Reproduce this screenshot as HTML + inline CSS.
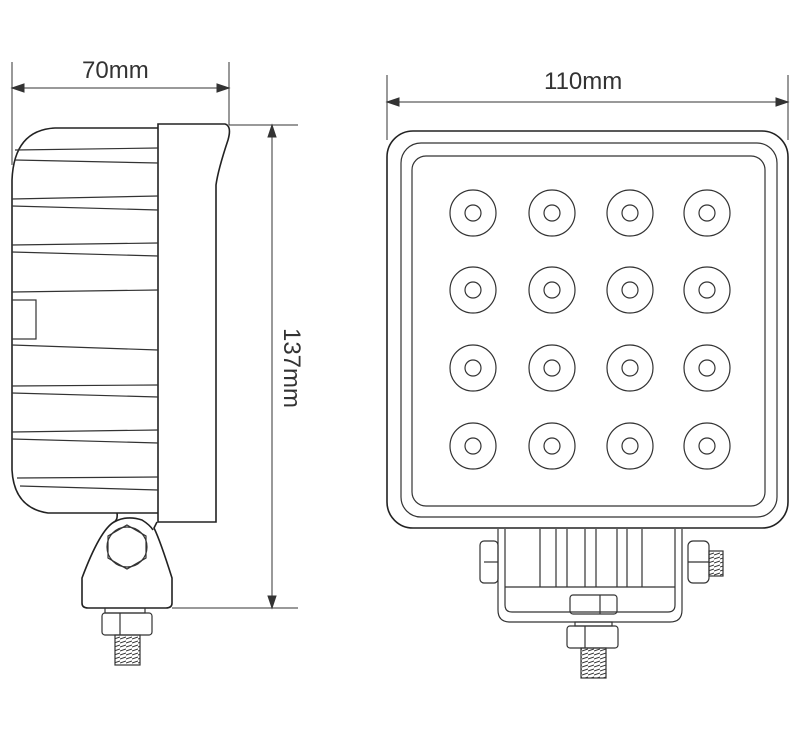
<!DOCTYPE html>
<html><head><meta charset="utf-8"><style>html,body{margin:0;padding:0;background:#fff}svg{display:block}</style></head>
<body>
<svg width="800" height="744" viewBox="0 0 800 744" xmlns="http://www.w3.org/2000/svg" font-family="Liberation Sans, sans-serif">
<defs>
<pattern id="th" width="6" height="4" patternUnits="userSpaceOnUse"><path d="M0,3 L6,1" stroke="#333" stroke-width="1"/></pattern>
</defs>
<g fill="none" stroke="#333" stroke-width="1">
<line x1="12" y1="62" x2="12" y2="165"/>
<line x1="229" y1="62" x2="229" y2="125"/>
<line x1="12" y1="88" x2="229" y2="88"/>
<path d="M12,88 L24,84 L24,92 z M229,88 L217,84 L217,92 z" fill="#333"/>
<line x1="229" y1="125" x2="298" y2="125"/>
<line x1="172" y1="608" x2="298" y2="608"/>
<line x1="272" y1="125" x2="272" y2="608"/>
<path d="M272,125 L268,137 L276,137 z M272,608 L268,596 L276,596 z" fill="#333"/>
<line x1="387" y1="75" x2="387" y2="140"/>
<line x1="788" y1="75" x2="788" y2="140"/>
<line x1="387" y1="102" x2="788" y2="102"/>
<path d="M387,102 L399,98 L399,106 z M788,102 L776,98 L776,106 z" fill="#333"/>
</g>
<g fill="#333" font-size="24">
<text x="82" y="78">70mm</text>
<text x="544" y="89">110mm</text>
<text transform="translate(284,368) rotate(90)" text-anchor="middle">137mm</text>
</g>
<g fill="none" stroke="#222" stroke-width="1.6">
<path d="M158,128 L55,128 Q14,130 12,180 L12,470 Q14,508 48,513 L158,513"/>
<path d="M158,124 L225,124 Q232,126 228,140 Q218,170 216,185 L216,522 L158,522 Z"/>
<path d="M117,513 Q118,520 114,522 Q100,530 82,578 L82,603 Q82,608 88,608 L166,608 Q172,608 172,603 L172,578 Q160,540 154,528 L157,522"/>
<path d="M114,522 Q127,515 142,520 Q150,525 153,530"/>
</g>
<g fill="none" stroke="#333" stroke-width="1.2">
<path d="M15,150 L158,148 M15,160 L158,163 M12,199 L158,196 M12,206 L158,210 M12,245 L158,243 M12,252 L158,256 M12,292 L158,290 M12,345 L158,350 M12,386 L158,385 M12,393 L158,397 M12,432 L158,430 M12,439 L158,443 M17,478 L158,477 M20,486 L158,490"/>
<rect x="12" y="300" width="24" height="39"/>
<polygon points="127,525 146,536 146,558 127,569 108,558 108,536"/>
<circle cx="127" cy="547" r="20"/>
<rect x="105" y="608" width="40" height="5"/>
<rect x="102" y="613" width="50" height="22" rx="3"/>
<line x1="120" y1="613" x2="120" y2="635"/>
<rect x="115" y="635" width="25" height="30" fill="url(#th)"/>
</g>
<g fill="none" stroke="#222" stroke-width="1.6">
<rect x="387" y="131" width="401" height="397" rx="26"/>
</g>
<g fill="none" stroke="#333" stroke-width="1.2">
<rect x="401" y="143" width="376" height="374" rx="20"/>
<rect x="412" y="156" width="353" height="350" rx="14"/>
<g id="leds">
<circle cx="473" cy="213" r="23"/><circle cx="473" cy="213" r="8"/>
<circle cx="552" cy="213" r="23"/><circle cx="552" cy="213" r="8"/>
<circle cx="630" cy="213" r="23"/><circle cx="630" cy="213" r="8"/>
<circle cx="707" cy="213" r="23"/><circle cx="707" cy="213" r="8"/>
</g>
<use href="#leds" y="77"/>
<use href="#leds" y="155"/>
<use href="#leds" y="233"/>
<path d="M498,529 L498,610 Q498,622 510,622 L670,622 Q682,622 682,610 L682,529"/>
<path d="M505,529 L505,605 Q505,612 512,612 L668,612 Q675,612 675,605 L675,529"/>
<line x1="505" y1="587" x2="675" y2="587"/>
<path d="M540,529 V587 M556,529 V587 M567,529 V587 M585,529 V587 M596,529 V587 M617,529 V587 M627,529 V587 M642,529 V587"/>
<rect x="480" y="541" width="18" height="42" rx="4"/>
<line x1="484" y1="562" x2="498" y2="562"/>
<rect x="688" y="541" width="21" height="42" rx="5"/>
<line x1="688" y1="562" x2="709" y2="562"/>
<rect x="709" y="551" width="14" height="25" fill="url(#th)"/>
<rect x="570" y="595" width="47" height="19" rx="3"/>
<line x1="600" y1="595" x2="600" y2="614"/>
<rect x="575" y="622" width="37" height="4"/>
<rect x="567" y="626" width="51" height="22" rx="3"/>
<line x1="585" y1="626" x2="585" y2="648"/>
<rect x="581" y="648" width="25" height="30" fill="url(#th)"/>
</g>
</svg>
</body></html>
